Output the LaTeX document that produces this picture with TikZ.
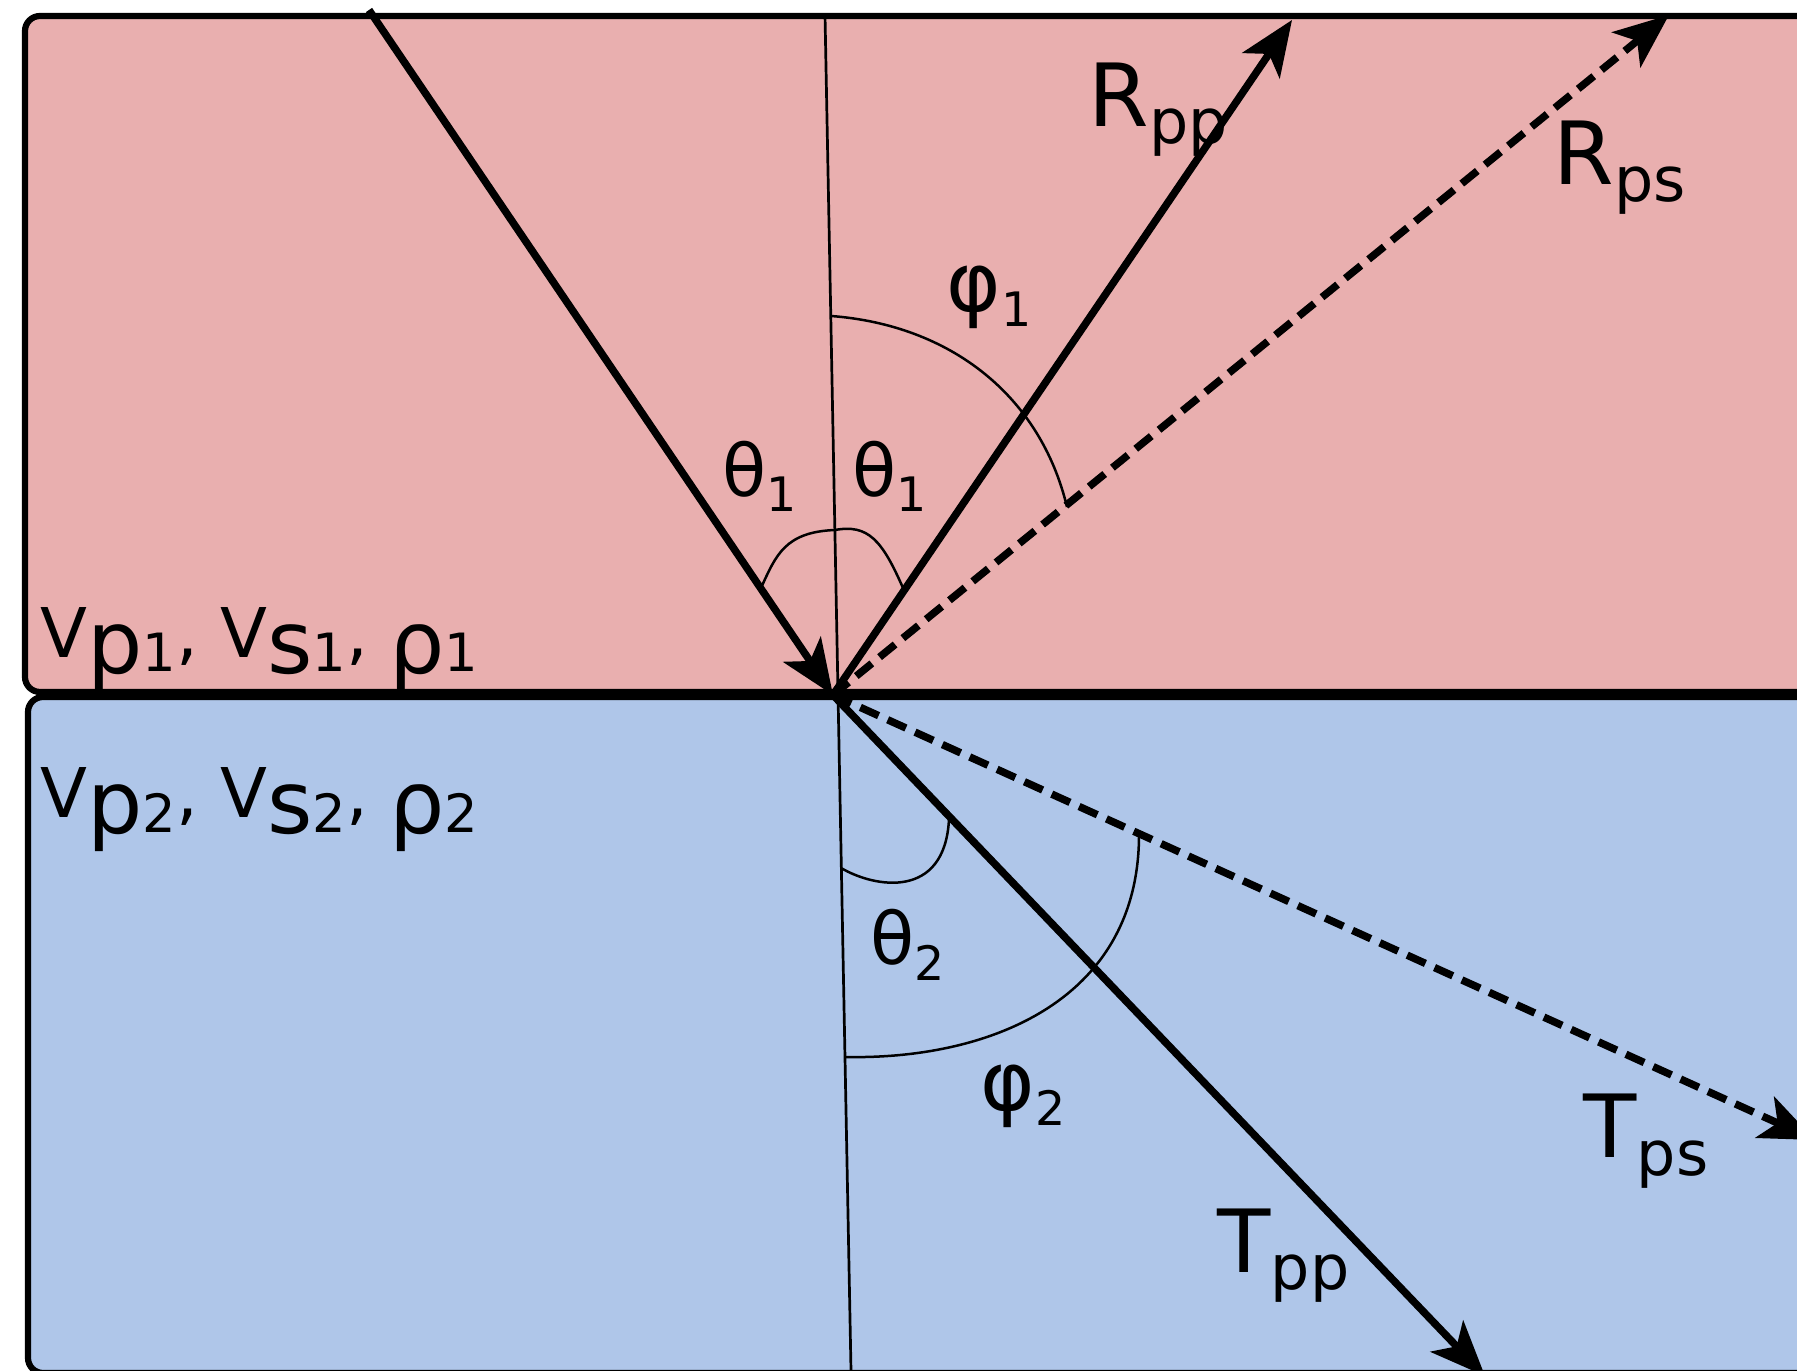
\documentclass[tikz,border=0pt]{standalone}
\usepackage{fontspec}
\setmainfont{DejaVu Sans}
\usetikzlibrary{arrows.meta}
\definecolor{topfill}{HTML}{E9AFAF}
\definecolor{botfill}{HTML}{AFC6E9}
\newcommand{\fsz}[1]{\fontsize{#1}{#1}\selectfont}
\newcommand{\capsub}[2]{{\fsz{24.8pt}#1}\raisebox{-0.17cm}{\fsz{17.6pt}#2}}
\newcommand{\grsub}[2]{{\fsz{20.5pt}#1}\raisebox{-0.15cm}{\fsz{13.5pt}#2}}
\newcommand{\phisub}[2]{{\fsz{23.5pt}#1}\raisebox{-0.15cm}{\fsz{13.5pt}#2}}
\newcommand{\vpart}[1]{\raisebox{-0.15cm}{\fsz{24.8pt}#1}}
\newcommand{\vdig}[1]{\raisebox{-0.14cm}{\fsz{15pt}#1}}
\begin{document}
\begin{tikzpicture}[x=0.01cm,y=-0.01cm,
  layer/.style={line width=0.062cm, draw=black, rounded corners=0.15cm},
  ray/.style={line width=0.075cm, -{Stealth[length=0.55cm,width=0.45cm,inset=0.14cm]}},
  sray/.style={ray, dash pattern=on 0.2cm off 0.1cm},
  guide/.style={line width=0.027cm},
  arcline/.style={line width=0.025cm},
  lbl/.style={inner sep=0pt, anchor=base west}]
\useasboundingbox (0,0) rectangle (1797,1371);
\clip (0,0) rectangle (1797,1371);
% layers
\draw[layer, fill=topfill] (25,16) rectangle (1950,692);
\draw[layer, fill=botfill] (28,697) rectangle (1950,1373);
% key points
\coordinate (O) at (833,695);
\coordinate (I) at (369,10);
\coordinate (N1) at (825,15);
\coordinate (N2) at (851,1371);
\coordinate (Rpp) at (1292,20);
\coordinate (Rps) at (1669,15);
\coordinate (Tpp) at (1485,1376);
\coordinate (Tps) at (1815,1140);
% normal
\draw[guide] (N1) -- (N2);
% angle arcs
\draw[arcline] (761,588) .. controls (776,555) and (785,532) .. (835,530)
               .. controls (868,524) and (882,540) .. (903,588);
\draw[arcline] (831,316) .. controls (950,325) and (1040,395) .. (1067,507);
\draw[arcline] (841,868) .. controls (875,888) and (945,900) .. (949,819);
\draw[arcline] (845,1057) .. controls (990,1060) and (1140,1000) .. (1139,833);
% rays
\draw[ray] (I) -- (O);
\draw[ray] (O) -- (Rpp);
\draw[sray] (O) -- (Rps);
\draw[ray] (O) -- (Tpp);
\draw[sray] (O) -- (Tps);
% labels
\node[lbl] (lrpp) at (1088,127) {\capsub{R}{pp}};
\node[lbl] (lrps) at (1553,185) {\capsub{R}{ps}};
\node[lbl] (ltpp) at (1217,1272) {\capsub{T}{pp}};
\node[lbl] (ltps) at (1583,1158) {\capsub{T}{ps}};
\node[lbl] (lphi1) at (946,312) {\phisub{φ}{1}};
\node[lbl] (lth1a) at (722,497) {\grsub{θ}{1}};
\node[lbl] (lth1b) at (852,497) {\grsub{θ}{1}};
\node[lbl] (lth2) at (870,965) {\grsub{θ}{2}};
\node[lbl] (lphi2) at (980,1110) {\phisub{φ}{2}};
\node[lbl] (lay1) at (40,658) {{\fsz{19.5pt}V}\vpart{p}\vdig{1}{\fsz{19.5pt}, V}\vpart{s}\vdig{1}{\fsz{19.5pt}, }\vpart{ρ}\vdig{1}};
\node[lbl] (lay2) at (40,818) {{\fsz{19.5pt}V}\vpart{p}\vdig{2}{\fsz{19.5pt}, V}\vpart{s}\vdig{2}{\fsz{19.5pt}, }\vpart{ρ}\vdig{2}};
\end{tikzpicture}
\end{document}
